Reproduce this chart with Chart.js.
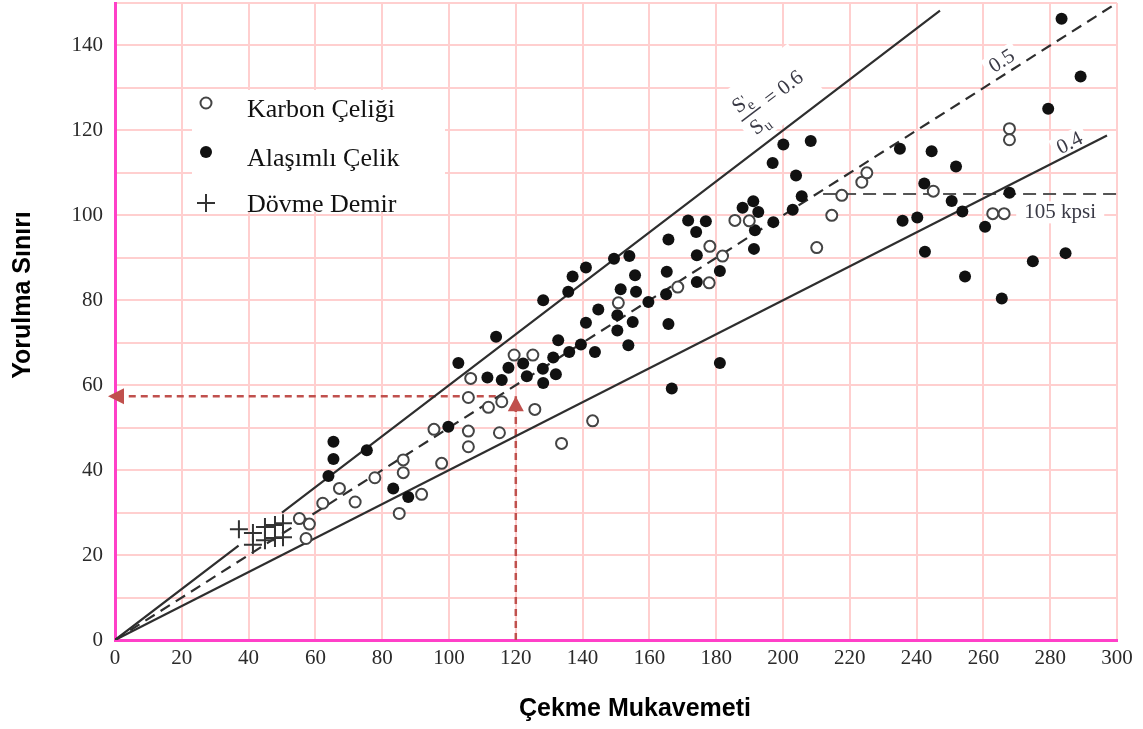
<!DOCTYPE html>
<html>
<head>
<meta charset="utf-8">
<title>Yorulma Sınırı / Çekme Mukavemeti</title>
<script src="https://cdn.jsdelivr.net/npm/chart.js@4.4.1/dist/chart.umd.min.js"></script>
<style>
  html, body { margin: 0; padding: 0; background: #fff; }
  #chart { display: block; }
</style>
</head>
<body>
<canvas id="chart" width="1143" height="729"></canvas>
<script>
// kpsi values: tensile strength (x) vs endurance limit (y)
var seriesNames = ['Karbon Çeliği', 'Alaşımlı Çelik', 'Dövme Demir'];

var carbonX = [55.2, 58.2, 57.2, 62.2, 67.2, 71.9, 77.8, 86.3, 86.3, 85.1, 91.8, 95.5, 97.8,
               106.5, 105.8, 105.8, 105.8, 111.8, 115.8, 115.1, 119.5, 125.1, 125.7, 133.7, 143.0,
               150.7, 168.5, 177.9, 181.9, 178.1, 185.6, 189.9, 210.1, 214.6, 217.6, 223.6, 225.1,
               245.0, 267.8, 267.8, 262.8, 266.2];
var carbonY = [28.6, 27.3, 23.9, 32.2, 35.7, 32.5, 38.2, 42.4, 39.4, 29.8, 34.3, 49.6, 41.6,
               61.6, 57.1, 49.2, 45.5, 54.8, 56.1, 48.8, 67.1, 67.1, 54.3, 46.3, 51.6,
               79.4, 83.1, 84.1, 90.4, 92.7, 98.8, 98.7, 92.4, 100.0, 104.7, 107.8, 110.0,
               105.7, 120.4, 117.8, 100.4, 100.4];

var alloyX = [65.4, 65.4, 63.9, 75.4, 83.3, 87.8, 99.8, 102.8, 114.1, 111.5, 115.8, 117.8, 122.2,
              123.3, 128.1, 128.2, 132.0, 131.2, 132.7, 136.0, 139.5, 143.7, 141.0, 144.7, 150.4,
              150.4, 155.0, 153.7, 151.4, 156.0, 155.7, 154.0, 149.4, 141.0, 137.0, 135.7, 128.2,
              159.7, 165.0, 165.2, 165.7, 166.7, 165.7, 174.2, 174.2, 181.1, 181.1, 191.3, 171.6,
              176.9, 174.0, 191.6, 187.9, 191.1, 192.6, 197.1, 202.9, 205.6, 203.9, 196.9, 200.1,
              208.3, 235.0, 244.5, 251.8, 242.3, 250.5, 253.7, 267.8, 235.8, 240.2, 260.5, 242.5,
              254.5, 274.8, 265.5, 284.6, 283.4, 289.1, 279.4];
var alloyY = [46.7, 42.6, 38.6, 44.7, 35.7, 33.7, 50.2, 65.2, 71.4, 61.8, 61.2, 64.1, 65.1,
              62.1, 63.9, 60.5, 62.6, 66.5, 70.6, 67.8, 69.6, 67.8, 74.7, 77.8, 76.5,
              72.9, 74.9, 69.4, 82.6, 82.0, 85.9, 90.4, 89.8, 87.7, 85.6, 82.0, 80.0,
              79.6, 81.4, 86.7, 74.4, 59.2, 94.3, 90.6, 84.3, 86.9, 65.2, 92.1, 98.8,
              98.6, 96.1, 96.5, 101.8, 103.3, 100.8, 98.4, 101.3, 104.5, 109.4, 112.3, 116.7,
              117.5, 115.7, 115.1, 111.5, 107.5, 103.4, 100.9, 105.3, 98.7, 99.5, 97.3, 91.4,
              85.6, 89.2, 80.4, 91.1, 146.3, 132.7, 125.1];

var ironX = [37.1, 41.3, 41.3, 44.9, 44.9, 47.9, 47.9, 50.3, 50.3];
var ironY = [26.1, 25.2, 22.4, 26.6, 23.5, 27.1, 24.0, 27.5, 24.2];

// S'e / Su ratio lines and where each one stops
var ratios = [0.6, 0.5, 0.4];
var ratioEnds = [247, 300, 297];
var gap06 = [37, 50];          // 0.6 line is broken around the wrought iron marks
var limitKpsi = 105;           // horizontal cap
var limitFrom = 212;
var readX = 120, readY = 57.4; // worked example read-off

var xMax = 300, xStep = 20;
var yMax = 150, yStep = 10, yLabelStep = 20;

var serif = "'Liberation Serif', 'Times New Roman', serif";
var sans = "'Liberation Sans', Arial, sans-serif";
var lineColor = '#2e2e2e';
var arrowColor = '#c0504d';

function pairs(xs, ys) {
    return xs.map(function (x, i) { return { x: x, y: ys[i] }; });
}

function ratioLine(r, xs) {
    return xs.map(function (x) {
        return x === null ? { x: gap06[0], y: null } : { x: x, y: r * x };
    });
}

function slopeAngle(chart, r) {
    var xs = chart.scales.x, ys = chart.scales.y;
    return Math.atan2(ys.getPixelForValue(r * 100) - ys.getPixelForValue(0),
                      xs.getPixelForValue(100) - xs.getPixelForValue(0));
}

// label anchors in data units
var fracAt = { x: 190.1, y: 124.2 };
var half05At = { x: 265.6, y: 136.2 };
var four04At = { x: 285.9, y: 116.9 };
var kpsiAt = { x: 283, y: 100.7 };

function whiteBox(ctx, cx, cy, angle, x0, y0, w, h) {
    ctx.save();
    ctx.translate(cx, cy);
    ctx.rotate(angle);
    ctx.fillStyle = '#fff';
    ctx.fillRect(x0, y0, w, h);
    ctx.restore();
}

var annotate = {
    id: 'annotate',
    beforeDatasetsDraw: function (chart) {
        var ctx = chart.ctx, xs = chart.scales.x, ys = chart.scales.y;
        var a6 = slopeAngle(chart, 0.6), a5 = slopeAngle(chart, 0.5), a4 = slopeAngle(chart, 0.4);
        whiteBox(ctx, xs.getPixelForValue(fracAt.x), ys.getPixelForValue(fracAt.y), a6, -16, -32, 88, 62);
        whiteBox(ctx, xs.getPixelForValue(half05At.x), ys.getPixelForValue(half05At.y), a5, -18, -12, 36, 24);
        whiteBox(ctx, xs.getPixelForValue(four04At.x), ys.getPixelForValue(four04At.y), a4, -18, -12, 36, 24);
        whiteBox(ctx, xs.getPixelForValue(kpsiAt.x), ys.getPixelForValue(kpsiAt.y), 0, -44, -11, 88, 22);
        // legend panel
        ctx.save();
        ctx.fillStyle = '#fff';
        ctx.fillRect(192, 90, 253, 122);
        ctx.restore();
    },
    afterDatasetsDraw: function (chart) {
        var ctx = chart.ctx, xs = chart.scales.x, ys = chart.scales.y;
        var ax = xs.getPixelForValue(readX), ay = ys.getPixelForValue(readY), x0 = xs.getPixelForValue(0);

        ctx.save();
        // arrow heads
        ctx.fillStyle = arrowColor;
        ctx.beginPath();
        ctx.moveTo(ax, ay);
        ctx.lineTo(ax - 8, ay + 15);
        ctx.lineTo(ax + 8, ay + 15);
        ctx.closePath();
        ctx.fill();
        ctx.beginPath();
        ctx.moveTo(x0 - 7, ay);
        ctx.lineTo(x0 + 9, ay - 8);
        ctx.lineTo(x0 + 9, ay + 8);
        ctx.closePath();
        ctx.fill();

        // legend
        ctx.strokeStyle = '#444';
        ctx.lineWidth = 2;
        ctx.fillStyle = '#fff';
        ctx.beginPath();
        ctx.arc(206, 103, 5.5, 0, Math.PI * 2);
        ctx.fill();
        ctx.stroke();
        ctx.fillStyle = '#111';
        ctx.beginPath();
        ctx.arc(206, 152, 6, 0, Math.PI * 2);
        ctx.fill();
        ctx.strokeStyle = '#333';
        ctx.beginPath();
        ctx.moveTo(197, 203); ctx.lineTo(215, 203);
        ctx.moveTo(206, 194); ctx.lineTo(206, 212);
        ctx.stroke();
        ctx.fillStyle = '#111';
        ctx.font = '26px ' + serif;
        ctx.textAlign = 'left';
        ctx.textBaseline = 'alphabetic';
        ctx.fillText(seriesNames[0], 247, 117);
        ctx.fillText(seriesNames[1], 247, 166);
        ctx.fillText(seriesNames[2], 247, 212);

        // ratio labels
        var txt = '#3a3a46';
        ctx.fillStyle = txt;
        ctx.strokeStyle = txt;
        ctx.save();
        ctx.translate(xs.getPixelForValue(fracAt.x), ys.getPixelForValue(fracAt.y));
        ctx.rotate(slopeAngle(chart, 0.6));
        ctx.font = '21px ' + serif;
        ctx.fillText('S', -10, -6);
        ctx.fillText('S', -9, 22);
        ctx.font = '15px ' + serif;
        ctx.fillText("'", 2, -9);
        ctx.fillText('e', 2, -1);
        ctx.fillText('u', 3, 26);
        ctx.lineWidth = 1.5;
        ctx.beginPath();
        ctx.moveTo(-12, 2); ctx.lineTo(12, 2);
        ctx.stroke();
        ctx.font = '21px ' + serif;
        ctx.fillText('= 0.6', 20, 7);
        ctx.restore();

        ctx.font = '21px ' + serif;
        ctx.textAlign = 'center';
        ctx.textBaseline = 'middle';
        [[half05At, 0.5, '0.5'], [four04At, 0.4, '0.4']].forEach(function (l) {
            ctx.save();
            ctx.translate(xs.getPixelForValue(l[0].x), ys.getPixelForValue(l[0].y));
            ctx.rotate(slopeAngle(chart, l[1]));
            ctx.fillText(l[2], 0, 0);
            ctx.restore();
        });
        ctx.fillText(limitKpsi + ' kpsi', xs.getPixelForValue(kpsiAt.x), ys.getPixelForValue(kpsiAt.y));

        // axis titles
        ctx.fillStyle = '#000';
        ctx.font = 'bold 25px ' + sans;
        ctx.fillText('Çekme Mukavemeti', 635, 709);
        ctx.translate(23, 295);
        ctx.rotate(-Math.PI / 2);
        ctx.fillText('Yorulma Sınırı', 0, 0);
        ctx.restore();
    }
};

var lineBase = { type: 'line', showLine: true, pointRadius: 0, borderWidth: 2.2, tension: 0, fill: false };

var datasets = [
    {
        label: seriesNames[0], data: pairs(carbonX, carbonY),
        pointStyle: 'circle', pointRadius: 5.5, borderWidth: 2,
        borderColor: '#444', backgroundColor: '#fff'
    },
    {
        label: seriesNames[1], data: pairs(alloyX, alloyY),
        pointStyle: 'circle', pointRadius: 6, borderWidth: 0,
        borderColor: '#111', backgroundColor: '#111'
    },
    {
        label: seriesNames[2], data: pairs(ironX, ironY),
        pointStyle: 'cross', pointRadius: 9, borderWidth: 2,
        borderColor: '#333', backgroundColor: '#333'
    },
    Object.assign({}, lineBase, {
        data: ratioLine(ratios[0], [0, gap06[0], null, gap06[1], ratioEnds[0]]),
        borderColor: lineColor, spanGaps: false
    }),
    Object.assign({}, lineBase, {
        data: ratioLine(ratios[1], [0, ratioEnds[1]]),
        borderColor: lineColor, borderDash: [11, 7]
    }),
    Object.assign({}, lineBase, {
        data: ratioLine(ratios[2], [0, ratioEnds[2]]),
        borderColor: lineColor
    }),
    Object.assign({}, lineBase, {
        data: [{ x: limitFrom, y: limitKpsi }, { x: xMax, y: limitKpsi }],
        borderColor: '#555', borderDash: [13, 7], borderWidth: 2
    }),
    Object.assign({}, lineBase, {
        data: [{ x: readX, y: 0 }, { x: readX, y: readY }],
        borderColor: arrowColor, borderDash: [7, 5], borderWidth: 2.5
    }),
    Object.assign({}, lineBase, {
        data: [{ x: readX - 6, y: readY }, { x: 0, y: readY }],
        borderColor: arrowColor, borderDash: [7, 5], borderWidth: 2.5
    })
];

// fixed axis boxes so the plot area sits where the frame expects it
function fixX(s) { s.height = 89; s.paddingLeft = 0; s.paddingRight = 0; }
function fixY(s) { s.width = 115; s.paddingTop = 0; s.paddingBottom = 0; }

var chart = new Chart(document.getElementById('chart').getContext('2d'), {
    type: 'scatter',
    data: { datasets: datasets },
    options: {
        responsive: false,
        animation: false,
        events: [],
        devicePixelRatio: 1,
        layout: { autoPadding: false, padding: { top: 3, right: 26, left: 0, bottom: 0 } },
        plugins: { legend: { display: false }, tooltip: { enabled: false } },
        scales: {
            x: {
                type: 'linear', min: 0, max: xMax,
                afterFit: fixX,
                grid: { color: '#ffcfcf', lineWidth: 2, drawTicks: false },
                border: { color: '#ff40c8', width: 3 },
                ticks: {
                    stepSize: xStep, autoSkip: false, maxRotation: 0, padding: 6,
                    color: '#2a2a2a', font: { family: serif, size: 21 }
                }
            },
            y: {
                type: 'linear', min: 0, max: yMax,
                afterFit: fixY,
                grid: { color: '#ffcfcf', lineWidth: 2, drawTicks: false },
                border: { color: '#ff40c8', width: 3 },
                ticks: {
                    stepSize: yStep, autoSkip: false, padding: 12,
                    color: '#2a2a2a', font: { family: serif, size: 21 },
                    callback: function (v) { return (v % yLabelStep === 0 && v < yMax) ? v : ''; }
                }
            }
        }
    },
    plugins: [annotate]
});
</script>
</body>
</html>
